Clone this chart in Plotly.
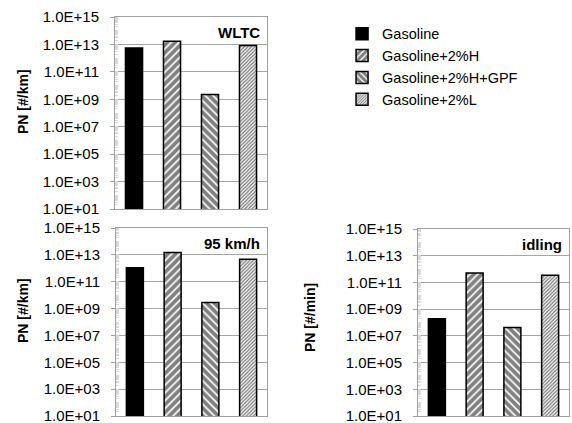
import plotly.graph_objects as go

series = ["Gasoline", "Gasoline+2%H", "Gasoline+2%H+GPF", "Gasoline+2%L"]
wltc = [5.4e12, 1.7e13, 2.2e9, 8.5e12]
kmh95 = [1.1e12, 1.5e13, 2.8e9, 4.7e12]
idling = [1.9e8, 5.0e11, 4.2e7, 3.4e11]
panel_titles = ["WLTC", "95 km/h", "idling"]
y_titles = ["PN [#/km]", "PN [#/km]", "PN [#/min]"]
tick_vals = [10.0 ** k for k in range(1, 16, 2)]
tick_text = ["1.0E+%02d" % k for k in range(1, 16, 2)]
minor_vals = [d * 10.0 ** k for k in range(1, 15) for d in range(2, 11)]

patterns = [
    dict(shape=""),
    dict(shape="/", fgcolor="black", bgcolor="white", size=5.5, solidity=0.7),
    dict(shape="\\", fgcolor="black", bgcolor="white", size=5.5, solidity=0.7),
    dict(shape="/", fgcolor="black", bgcolor="white", size=2.5, solidity=0.55),
]
fills = ["black", "white", "white", "white"]

W, H = 572, 423
# plot areas in pixels: (left, right, top, bottom)
areas = [(115, 267, 17, 209), (116, 267, 228, 416), (418, 569, 229, 416)]

fig = go.Figure()
data = [wltc, kmh95, idling]
for p, vals in enumerate(data):
    xa = "x" if p == 0 else "x%d" % (p + 1)
    ya = "y" if p == 0 else "y%d" % (p + 1)
    for i, s in enumerate(series):
        fig.add_trace(go.Bar(
            x=[s], y=[vals[i]], name=s, xaxis=xa, yaxis=ya,
            width=0.45, legendgroup=s, showlegend=(p == 0),
            marker=dict(color=fills[i], pattern=patterns[i],
                        line=dict(color="black", width=1.5)),
        ))

layout = dict(
    width=W, height=H, margin=dict(l=0, r=0, t=0, b=0),
    paper_bgcolor="white", plot_bgcolor="white",
    barmode="overlay", bargap=0.5,
    font=dict(family="Liberation Sans, Arial", size=14, color="black"),
    legend=dict(x=0.598, y=0.958, xanchor="left", yanchor="top",
                font=dict(size=14.5), tracegroupgap=0, bgcolor="rgba(0,0,0,0)"),
)
annotations = []
for p, (l, r, t, b) in enumerate(areas):
    sx = "" if p == 0 else str(p + 1)
    layout["xaxis" + sx] = dict(
        domain=[l / W, r / W], anchor="y" + sx, showticklabels=False,
        showline=True, linecolor="#a0a0a0", linewidth=1, mirror=True,
        ticks="", showgrid=False, categoryorder="array", categoryarray=series,
        automargin=False,
    )
    layout["yaxis" + sx] = dict(
        domain=[1 - b / H, 1 - t / H], anchor="x" + sx, type="log",
        range=[1, 15], tickmode="array", tickvals=tick_vals, ticktext=tick_text,
        ticks="outside", ticklen=4, tickcolor="#a0a0a0", ticklabelstandoff=8,
        showline=True, linecolor="#a0a0a0", linewidth=1, mirror=True,
        showgrid=True, gridcolor="#a6a6a6", gridwidth=1, zeroline=False,
        tickfont=dict(size=15), automargin=False, ticklabeloverflow="allow",
        minor=dict(tickmode="array", tickvals=minor_vals, ticks="inside",
                   ticklen=3, tickcolor="#d9d9d9", tickwidth=1, showgrid=False),
    )
    annotations.append(dict(
        text="<b>%s</b>" % panel_titles[p], xref="paper", yref="paper",
        x=(r - 5) / W, y=1 - (t + 15) / H, xanchor="right", yanchor="middle",
        showarrow=False, font=dict(size=15),
    ))
ycent = [102, 311, 318]
xcent = [23, 23, 310]
for p in range(3):
    annotations.append(dict(
        text="<b>%s</b>" % y_titles[p], xref="paper", yref="paper",
        x=xcent[p] / W, y=1 - ycent[p] / H, xanchor="center", yanchor="middle",
        textangle=-90, showarrow=False, font=dict(size=14),
    ))
layout["annotations"] = annotations
fig.update_layout(**layout)
fig.write_html("out.html")
